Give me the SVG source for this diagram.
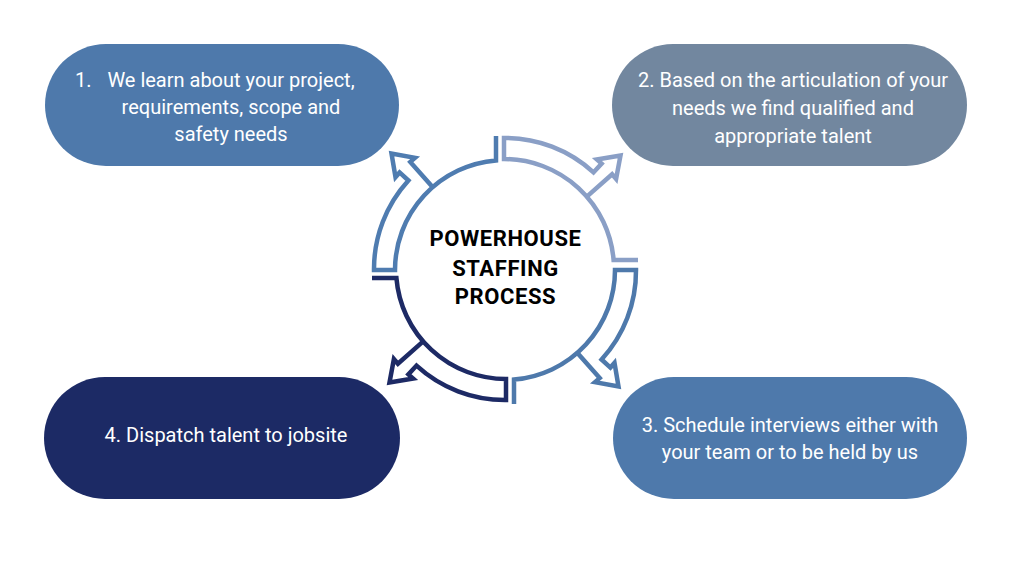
<svg xmlns="http://www.w3.org/2000/svg" width="1024" height="576" viewBox="0 0 1024 576">
  <style>
    .pill-text { font-family: Roboto, "Liberation Sans", sans-serif; font-size: 20px; fill: #ffffff; text-anchor: middle; }
    .title { font-family: Roboto, "Liberation Sans", sans-serif; font-size: 22px; font-weight: bold; fill: #000000; text-anchor: middle; letter-spacing: 0.6px; }
    .ring { fill: none; stroke-width: 4.5; stroke-linejoin: miter; stroke-miterlimit: 10; }
  </style>
  <defs>
    <path id="seg" d="M 133,-9 L 108.6,-9 A 110 110 0 0 0 -1,-110 L -1,-131 A 131 131 0 0 1 88.5,-96.6 L 96.6,-105.4 L 91.9,-109.5 L 115.5,-113.5 L 111.1,-90 L 107.1,-94.7 L 82.4,-72.9"/>
  </defs>
  <rect width="1024" height="576" fill="#ffffff"/>

  <g id="connectors">
    <use href="#seg" class="ring" stroke="#8A9FC6" transform="translate(505,269) rotate(0)"/>
    <use href="#seg" class="ring" stroke="#4E79AB" transform="translate(505,271) rotate(90)"/>
    <use href="#seg" class="ring" stroke="#1D2A65" transform="translate(505,269) rotate(180)"/>
    <use href="#seg" class="ring" stroke="#4F7CB0" transform="translate(505,269) rotate(270)"/>
  </g>

  <g id="center">
    <text class="title" x="505.5" y="246">POWERHOUSE</text>
    <text class="title" x="505.5" y="276">STAFFING</text>
    <text class="title" x="505.5" y="304">PROCESS</text>
  </g>

  <g id="step1">
    <rect x="45" y="44" width="354" height="122" rx="61" ry="61" fill="#4E79AB"/>
    <text class="pill-text" x="75" y="87" style="text-anchor:start">1.</text>
    <text class="pill-text" x="231" y="87">We learn about your project,</text>
    <text class="pill-text" x="231" y="114">requirements, scope and</text>
    <text class="pill-text" x="231" y="141">safety needs</text>
  </g>

  <g id="step2">
    <rect x="612" y="44" width="355" height="122" rx="61" ry="61" fill="#72879F"/>
    <text class="pill-text" x="793" y="87">2. Based on the articulation of your</text>
    <text class="pill-text" x="793" y="115">needs we find qualified and</text>
    <text class="pill-text" x="793" y="143">appropriate talent</text>
  </g>

  <g id="step3">
    <rect x="613" y="377" width="354" height="122" rx="61" ry="61" fill="#4E79AB"/>
    <text class="pill-text" x="790" y="432">3. Schedule interviews either with</text>
    <text class="pill-text" x="790" y="459">your team or to be held by us</text>
  </g>

  <g id="step4">
    <rect x="44" y="377" width="356" height="122" rx="61" ry="61" fill="#1C2A65"/>
    <text class="pill-text" x="226" y="442">4. Dispatch talent to jobsite</text>
  </g>
</svg>
